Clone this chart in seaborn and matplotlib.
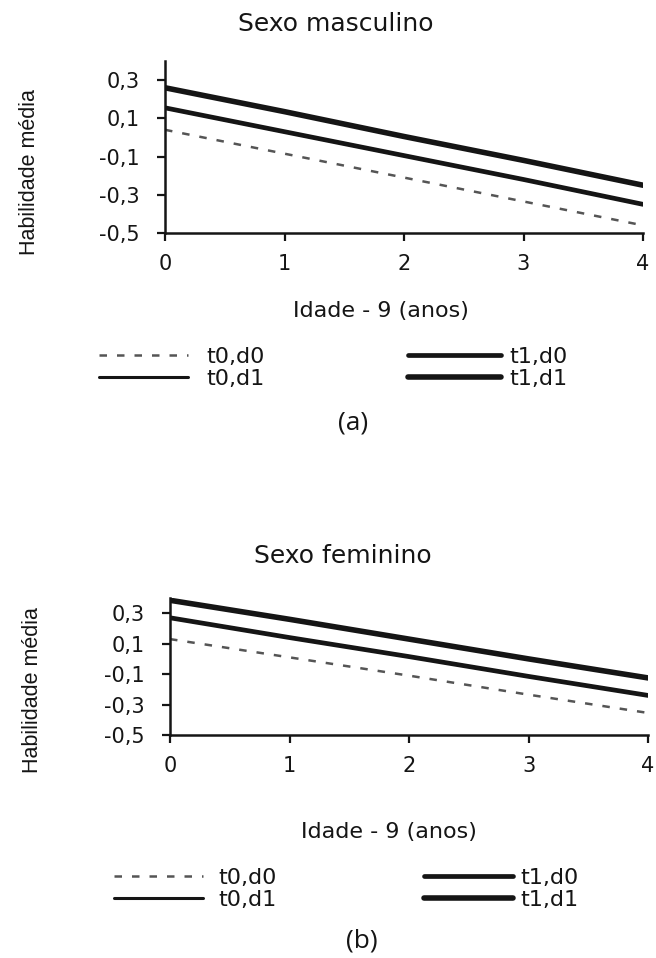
import matplotlib
matplotlib.use('Agg')
import matplotlib.pyplot as plt
import seaborn as sns
from matplotlib.ticker import FuncFormatter

# idade - 9 (anos)
idade = [0, 1, 2, 3, 4]

# Sexo masculino (a)
masc_t0_d0 = [0.04, -0.085, -0.21, -0.335, -0.46]
masc_t0_d1 = [0.155, 0.03, -0.095, -0.22, -0.35]
masc_t1_d0 = [0.155, 0.03, -0.095, -0.22, -0.35]
masc_t1_d1 = [0.26, 0.135, 0.005, -0.12, -0.25]

# Sexo feminino (b)
fem_t0_d0 = [0.13, 0.01, -0.11, -0.235, -0.355]
fem_t0_d1 = [0.27, 0.14, 0.015, -0.115, -0.24]
fem_t1_d0 = [0.27, 0.14, 0.015, -0.115, -0.24]
fem_t1_d1 = [0.385, 0.26, 0.13, 0.0, -0.125]

labels = ['t0,d0', 't0,d1', 't1,d0', 't1,d1']
y_ticks = [-0.5, -0.3, -0.1, 0.1, 0.3]
x_ticks = [0, 1, 2, 3, 4]

sns.set_style('ticks')
plt.rcParams['font.family'] = ['DejaVu Sans']

W, H = 656, 958
INK = '#151515'

styles = [
    dict(color='#555555', linewidth=1.8, linestyle=(0, (3, 4))),
    dict(color=INK, linewidth=2.2, linestyle='-'),
    dict(color=INK, linewidth=3.4, linestyle='-'),
    dict(color=INK, linewidth=4.0, linestyle='-'),
]


def fx(px):
    return px / W


def fy(py):
    return 1 - py / H


def draw_panel(ax, series, title, title_xy, xlab_xy, ylab_xy, leg_y, col_x, tag, tag_xy):
    for vals, lab, st in zip(series, labels, styles):
        sns.lineplot(x=idade, y=vals, ax=ax, label=lab, **st)
    handles, labs = ax.get_legend_handles_labels()
    ax.get_legend().remove()
    ax.set_xlim(0, 4)
    ax.set_ylim(-0.5, 0.4)
    ax.set_xticks(x_ticks)
    ax.set_yticks(y_ticks)
    ax.yaxis.set_major_formatter(FuncFormatter(lambda v, p: f'{v:.1f}'.replace('.', ',')))
    ax.set_xlabel('')
    ax.set_ylabel('')
    sns.despine(ax=ax)
    for s in ['left', 'bottom']:
        ax.spines[s].set_linewidth(1.8)
        ax.spines[s].set_color(INK)
    ax.tick_params(axis='both', labelsize=15, width=1.6, length=6, color=INK, labelcolor=INK)
    ax.tick_params(axis='x', pad=9)
    ax.tick_params(axis='y', pad=12)

    fig.text(fx(title_xy[0]), fy(title_xy[1]), title, fontsize=18, ha='center', va='center', color=INK)
    fig.text(fx(xlab_xy[0]), fy(xlab_xy[1]), 'Idade - 9 (anos)', fontsize=16, ha='center',
             va='center', color=INK)
    fig.text(fx(ylab_xy[0]), fy(ylab_xy[1]), 'Habilidade média', fontsize=15.5, rotation=90,
             ha='center', va='center', color=INK, family='Liberation Sans')

    # two legend columns, placed separately
    for i, (x0, hl, tp) in enumerate(col_x):
        fig.legend(handles[2 * i:2 * i + 2], labs[2 * i:2 * i + 2], loc='center left',
                   bbox_to_anchor=(fx(x0), fy(leg_y)), frameon=False, fontsize=16,
                   handlelength=hl, handletextpad=tp, labelspacing=0.08,
                   borderpad=0, borderaxespad=0, labelcolor=INK)

    fig.text(fx(tag_xy[0]), fy(tag_xy[1]), tag, fontsize=19, ha='center', va='center',
             family='Open Sans', color=INK)


fig = plt.figure(figsize=(W / 100, H / 100), dpi=100)
ax1 = fig.add_axes([fx(165), fy(233), fx(643) - fx(165), fy(61) - fy(233)])
ax2 = fig.add_axes([fx(170), fy(735), fx(648) - fx(170), fy(598) - fy(735)])

draw_panel(ax1, [masc_t0_d0, masc_t0_d1, masc_t1_d0, masc_t1_d1],
           'Sexo masculino', (336, 24), (381, 311), (30, 172),
           368, [(99, 4.0, 0.85), (408, 4.2, 0.35)], '(a)', (353, 423))
draw_panel(ax2, [fem_t0_d0, fem_t0_d1, fem_t1_d0, fem_t1_d1],
           'Sexo feminino', (343, 556), (389, 832), (33, 690),
           889, [(114, 4.0, 0.7), (424, 4.0, 0.35)], '(b)', (362, 941))

plt.savefig('out.png', dpi=100)
plt.close()
